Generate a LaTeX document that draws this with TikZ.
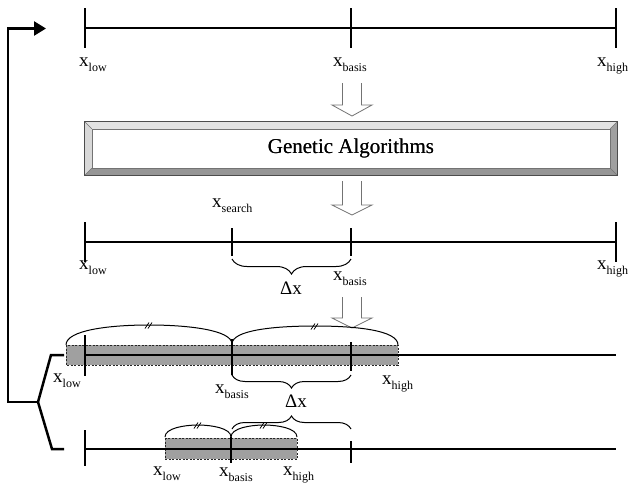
\documentclass[tikz,border=0pt]{standalone}
\usepackage{fontspec}
\setmainfont{Liberation Serif}
\usetikzlibrary{arrows.meta,decorations.pathreplacing}
\definecolor{bandgray}{RGB}{160,160,160}
\definecolor{bevlight}{RGB}{226,226,226}
\definecolor{bevleft}{RGB}{216,216,216}
\definecolor{bevdark}{RGB}{150,150,150}
\definecolor{bevright}{RGB}{160,160,160}
\newcommand{\xl}[1]{x\raisebox{-5.5pt}{\fontsize{12}{12}\selectfont #1}}
\newcommand{\slashmark}[2]{\draw[line width=0.8pt] (#1-4,#2+3) -- (#1,#2-3) (#1-1,#2+3) -- (#1+3,#2-3);}
\begin{document}
\begin{tikzpicture}[x=1pt,y=-1pt,
  axis/.style={line width=1.5pt},
  tickmark/.style={line width=1.5pt},
  lab/.style={anchor=base west, inner sep=0pt, font=\fontsize{19}{19}\selectfont},
  dlab/.style={anchor=base, inner sep=0pt, font=\fontsize{19}{19}\selectfont},
  hollow/.style={draw=black!55, line width=0.8pt, fill=white},
  brc/.style={decorate, decoration={brace, amplitude=#1}, line width=1pt},
  brcm/.style={decorate, decoration={brace, mirror, amplitude=#1}, line width=1pt},
  arcb/.style={line width=1pt},
  band/.style={fill=bandgray, draw=black!85, dash pattern=on 2pt off 1.5pt, line width=0.8pt},
  fb/.style={line width=2.5pt},
  gabox/.style={minimum width=532pt, minimum height=53pt, inner sep=0pt, font=\fontsize{21}{21}\selectfont}
]
\useasboundingbox (0,0) rectangle (629,485);

% ---------- line 1 ----------
\coordinate (l1a) at (85,28);
\coordinate (l1b) at (616,28);
\draw[axis] (l1a) -- (l1b);
\draw[tickmark] (85,8) -- (85,48);
\draw[tickmark] (351,8) -- (351,48);
\draw[tickmark] (616,8) -- (616,48);
\node[lab] (t1low) at (79,66) {\xl{low}};
\node[lab] (t1basis) at (333,66) {\xl{basis}};
\node[lab] (t1high) at (597,66) {\xl{high}};

% hollow arrow 1
\filldraw[hollow] (342.5,83) -- (342.5,105) -- (332,105) -- (352,116) -- (372,105) -- (361.5,105) -- (361.5,83);

% ---------- GA box ----------
\node[gabox] (ga) at (351,148.5) {Genetic Algorithms};
\fill[bevlight] (ga.north west) -- (ga.north east) -- ([shift={(-7pt,-7pt)}]ga.north east) -- ([shift={(7pt,-7pt)}]ga.north west) -- cycle;
\fill[bevleft] (ga.north west) -- ([shift={(7pt,-7pt)}]ga.north west) -- ([shift={(7pt,7pt)}]ga.south west) -- (ga.south west) -- cycle;
\fill[bevright] (ga.north east) -- (ga.south east) -- ([shift={(-7pt,7pt)}]ga.south east) -- ([shift={(-7pt,-7pt)}]ga.north east) -- cycle;
\fill[bevdark] (ga.south west) -- (ga.south east) -- ([shift={(-7pt,7pt)}]ga.south east) -- ([shift={(7pt,7pt)}]ga.south west) -- cycle;
\draw[black!55, line width=0.4pt] (ga.north west) -- ([shift={(7pt,-7pt)}]ga.north west)
  (ga.north east) -- ([shift={(-7pt,-7pt)}]ga.north east)
  (ga.south west) -- ([shift={(7pt,7pt)}]ga.south west)
  (ga.south east) -- ([shift={(-7pt,7pt)}]ga.south east);
\draw[black!55, line width=0.6pt] ([shift={(7pt,-7pt)}]ga.north west) rectangle ([shift={(-7pt,7pt)}]ga.south east);
\draw[black!70, line width=0.8pt] (ga.north west) rectangle (ga.south east);
\node[gabox] at (ga.center) {Genetic Algorithms};

% hollow arrow 2
\filldraw[hollow] (342.5,181) -- (342.5,205) -- (332,205) -- (352,215) -- (372,205) -- (361.5,205) -- (361.5,181);

% ---------- line 2 ----------
\coordinate (l2a) at (85,242);
\coordinate (l2b) at (616,242);
\draw[axis] (l2a) -- (l2b);
\draw[tickmark] (85,222) -- (85,262);
\draw[tickmark] (232,228) -- (232,256);
\draw[tickmark] (351,228) -- (351,256);
\draw[tickmark] (616,222) -- (616,262);
\node[lab] (t2search) at (212,207) {\xl{search}};
\node[lab] (t2low) at (79,269) {\xl{low}};
\node[lab] (t2basis) at (333,280) {\xl{basis}};
\node[lab] (t2high) at (597,269) {\xl{high}};
\draw[brcm=15pt] (232,259) -- (351,259);
\node[dlab] (d2) at (291,294) {Δx};

% hollow arrow 3
\filldraw[hollow] (342.5,297) -- (342.5,318) -- (332,318) -- (352,328) -- (372,318) -- (361.5,318) -- (361.5,297);

% ---------- line 3 ----------
\path[band] (66,345) rectangle (398,365);
\coordinate (l3a) at (85,355);
\coordinate (l3b) at (616,355);
\draw[axis] (l3a) -- (l3b);
\draw[tickmark] (85,335) -- (85,376);
\draw[tickmark] (232,339) -- (232,375);
\draw[tickmark] (351,342) -- (351,371);
\draw[arcb] (66,345) .. controls (66,330) and (110,325) .. (149,325) .. controls (188,325) and (232,330) .. (232,344);
\draw[arcb] (232,344) .. controls (232,330) and (275,326) .. (315,326) .. controls (355,326) and (398,330) .. (398,345);
\slashmark{149}{325.5}
\slashmark{315}{326.5}
\node[lab] (t3low) at (53,382) {\xl{low}};
\node[lab] (t3basis) at (215,393) {\xl{basis}};
\node[lab] (t3high) at (382,384) {\xl{high}};
\draw[brcm=13pt] (232,375) -- (351,375);
\node[dlab] (d3) at (296,407) {Δx};

% ---------- line 4 ----------
\path[band] (165,438) rectangle (297,459);
\coordinate (l4a) at (85,449);
\coordinate (l4b) at (616,449);
\draw[axis] (l4a) -- (l4b);
\draw[tickmark] (85,430) -- (85,466);
\draw[tickmark] (231,437) -- (231,463);
\draw[tickmark] (351,441) -- (351,463);
\draw[arcb] (165,437) .. controls (165,428) and (185,425) .. (198,425) .. controls (211,425) and (231,428) .. (231,437);
\draw[arcb] (231,437) .. controls (231,428) and (251,425) .. (264,425) .. controls (277,425) and (297,428) .. (297,437);
\slashmark{198}{425.5}
\slashmark{264}{425.5}
\draw[brc=13pt] (232,429) -- (351,429);
\node[lab] (t4low) at (153,475) {\xl{low}};
\node[lab] (t4basis) at (219,476) {\xl{basis}};
\node[lab] (t4high) at (283,475) {\xl{high}};

% ---------- feedback ----------
\coordinate (fbj) at (38,402);
\coordinate (fbl) at (8,402);
\coordinate (fbtip) at (46,28.5);
\coordinate (b3k) at (51,355);
\coordinate (b3) at (64,355);
\coordinate (b4k) at (52,449);
\coordinate (b4) at (64,449);
\draw[fb, -{Triangle[length=12pt,width=14pt]}] (fbj) -- (fbl) |- (fbtip);
\draw[fb, line join=miter] (b3) -- (b3k) -- (fbj) -- (b4k) -- (b4);
\end{tikzpicture}
\end{document}
